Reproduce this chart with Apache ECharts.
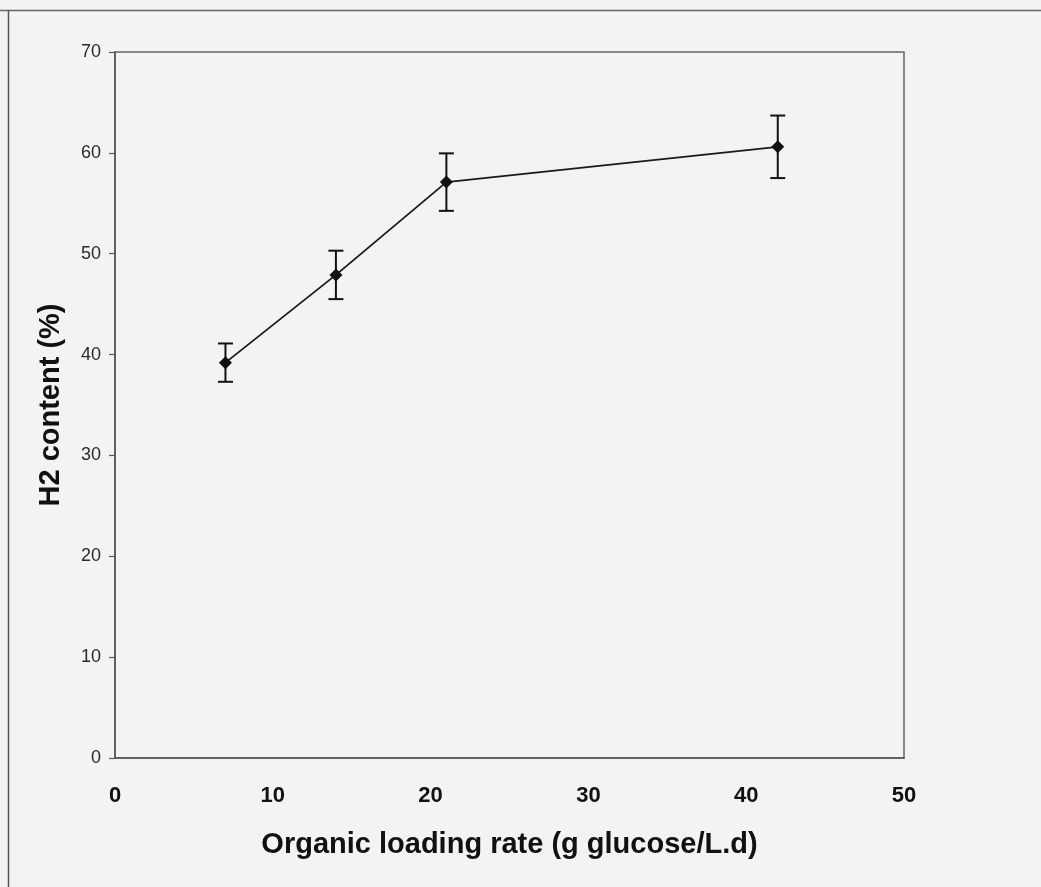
<!DOCTYPE html>
<html>
<head>
<meta charset="utf-8">
<script src="https://cdn.jsdelivr.net/npm/echarts@6/dist/echarts.min.js"></script>
<style>
  html, body { margin: 0; padding: 0; background: #f3f3f1; }
  #chart { width: 1041px; height: 887px; }
</style>
</head>
<body>
<div id="chart"></div>
<script>
// Organic loading rate (g glucose/L.d) and measured H2 content (%)
const olr = [7, 14, 21, 42];
const h2Content = [39.2, 47.9, 57.1, 60.6];
const h2Error = [1.9, 2.4, 2.85, 3.1];
const xTicks = [0, 10, 20, 30, 40, 50];
const yTicks = [0, 10, 20, 30, 40, 50, 60, 70];

const FONT = '"Liberation Sans", Arial, Helvetica, sans-serif';

const points = olr.map((x, i) => [x, h2Content[i]]);
const bars = olr.map((x, i) => [x, h2Content[i] - h2Error[i], h2Content[i] + h2Error[i]]);

const chart = echarts.init(document.getElementById('chart'), null, { renderer: 'canvas' });

chart.setOption({
  backgroundColor: '#f3f3f1',
  animation: false,
  graphic: [
    // outer frame lines along the top and left edges
    { type: 'line', shape: { x1: 0, y1: 10.5, x2: 1041, y2: 10.5 }, style: { stroke: '#666', lineWidth: 1.5 } },
    { type: 'line', shape: { x1: 8.5, y1: 10, x2: 8.5, y2: 887 }, style: { stroke: '#555', lineWidth: 1.5 } }
  ],
  grid: {
    left: 115, top: 52, right: 137, bottom: 129,
    show: true, borderColor: '#666', borderWidth: 1.5, backgroundColor: 'transparent'
  },
  xAxis: {
    type: 'value',
    min: xTicks[0], max: xTicks[xTicks.length - 1], interval: 10,
    name: 'Organic loading rate (g glucose/L.d)',
    nameLocation: 'middle', nameGap: 72,
    nameTextStyle: { fontFamily: FONT, fontSize: 29, fontWeight: 'bold', color: '#111' },
    axisLine: { show: true, onZero: false, lineStyle: { color: '#555', width: 1.5 } },
    axisTick: { show: false },
    axisLabel: { fontFamily: FONT, fontSize: 22, fontWeight: 'bold', color: '#111', margin: 27 },
    splitLine: { show: false }
  },
  yAxis: {
    type: 'value',
    min: yTicks[0], max: yTicks[yTicks.length - 1], interval: 10,
    name: 'H2 content (%)',
    nameLocation: 'middle', nameGap: 50, nameRotate: 90,
    nameTextStyle: { fontFamily: FONT, fontSize: 29, fontWeight: 'bold', color: '#111' },
    axisLine: { show: true, lineStyle: { color: '#555', width: 1.5 } },
    axisTick: { show: true, inside: false, length: 6, lineStyle: { color: '#555', width: 1.2 } },
    axisLabel: { fontFamily: FONT, fontSize: 18, color: '#2a2a2a', margin: 14 },
    splitLine: { show: false }
  },
  series: [
    {
      type: 'custom',
      name: 'error',
      data: bars,
      z: 3,
      renderItem: function (params, api) {
        const x = api.value(0);
        const lo = api.coord([x, api.value(1)]);
        const hi = api.coord([x, api.value(2)]);
        const half = 7.5;
        const style = { stroke: '#111', lineWidth: 2 };
        return {
          type: 'group',
          children: [
            { type: 'line', shape: { x1: lo[0], y1: lo[1], x2: hi[0], y2: hi[1] }, style: style },
            { type: 'line', shape: { x1: hi[0] - half, y1: hi[1], x2: hi[0] + half, y2: hi[1] }, style: style },
            { type: 'line', shape: { x1: lo[0] - half, y1: lo[1], x2: lo[0] + half, y2: lo[1] }, style: style }
          ]
        };
      }
    },
    {
      type: 'line',
      name: 'H2 content',
      data: points,
      z: 4,
      symbol: 'diamond',
      symbolSize: 13,
      itemStyle: { color: '#111' },
      lineStyle: { color: '#1a1a1a', width: 1.8 }
    }
  ]
});
</script>
</body>
</html>
